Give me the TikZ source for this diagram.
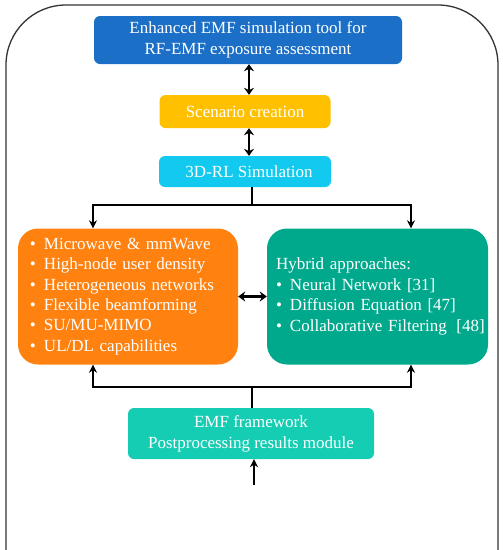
\documentclass[tikz,border=0pt]{standalone}
\usepackage{fontspec}
\setmainfont{Liberation Serif}
\usetikzlibrary{arrows.meta}

\definecolor{toolblue}{HTML}{1C6FC6}
\definecolor{scengold}{HTML}{FFC000}
\definecolor{simcyan}{HTML}{12C9EF}
\definecolor{featorange}{HTML}{FF8210}
\definecolor{hybteal}{HTML}{00A98C}
\definecolor{emfteal}{HTML}{14CDB2}

\tikzset{
  box/.style={rounded corners=6pt, text=white, align=center, inner sep=0pt,
    font=\fontsize{17}{21}\selectfont},
  bigbox/.style={box, rounded corners=20pt, align=left,
    font=\fontsize{17}{20.4}\selectfont},
  wire/.style={line width=2pt},
  link/.style={wire, -{Stealth[length=8pt,width=8pt]}},
  twoway/.style={line width=2.6pt, {Stealth[length=7pt,width=10pt]}-{Stealth[length=7pt,width=10pt]}},
}
\newcommand{\itm}{\makebox[14pt][l]{\textbullet}}

\begin{document}
\begin{tikzpicture}[x=1pt,y=-1pt]
    \useasboundingbox (0,0) rectangle (503,550);
    \clip (0,0) rectangle (503,550);
    % outer frame
    \draw[line width=1.3pt, draw=black!80, rounded corners=60pt] (6,5) rectangle (498,660);

    \node[box, fill=toolblue, minimum width=308pt, minimum height=48pt] (tool) at (248,40)
        {Enhanced EMF simulation tool for\\RF-EMF exposure assessment};
    \node[box, fill=scengold, minimum width=171pt, minimum height=33pt] (scen) at (245,111.5)
        {Scenario creation};
    \node[box, fill=simcyan, minimum width=172pt, minimum height=31pt] (sim) at (245,171.5)
        {\hspace{8pt}3D-RL Simulation};
    \node[bigbox, fill=featorange, minimum height=136pt, text width=196pt, inner xsep=12pt] (feat) at (128,296.5)
        {\itm Microwave \& mmWave\\
         \itm High-node user density\\
         \itm Heterogeneous networks\\
         \itm Flexible beamforming\\
         \itm SU/MU-MIMO\\
         \itm UL/DL capabilities};
    \node[bigbox, fill=hybteal, minimum height=136pt, text width=203pt, inner xsep=9pt] (hyb) at (377.5,296.5)
        {Hybrid approaches:\\
         \itm Neural Network [31]\\
         \itm Diffusion Equation [47]\\
         \itm \makebox[0pt][l]{Collaborative Filtering\hspace{4pt} [48]}\\[-6pt]};
    \node[box, fill=emfteal, minimum width=246pt, minimum height=51pt] (emf) at (251,433.5)
        {EMF framework\\Postprocessing results module};

    % columns and joints
    \coordinate (axis) at (249,0);
    \coordinate (lcol) at (93,0);
    \coordinate (rcol) at (411,0);
    \coordinate (fork) at (252,205);
    \coordinate (join) at (252,387);
    \coordinate (tail) at (254,485);

    \draw[twoway] (tool.south -| axis) -- (scen.north -| axis);
    \draw[twoway] (scen.south -| axis) -- (sim.north -| axis);
    \draw[wire] (sim.south -| fork) -- (fork);
    \draw[link] (fork) -| (feat.north -| lcol);
    \draw[link] (fork) -| (hyb.north -| rcol);
    \draw[twoway] (feat.east) -- (hyb.west);
    \draw[wire] (emf.north -| join) -- (join);
    \draw[link] (join) -| (feat.south -| lcol);
    \draw[link] (join) -| (hyb.south -| rcol);
    \draw[link] (tail) -- (emf.south -| tail);
\end{tikzpicture}
\end{document}
